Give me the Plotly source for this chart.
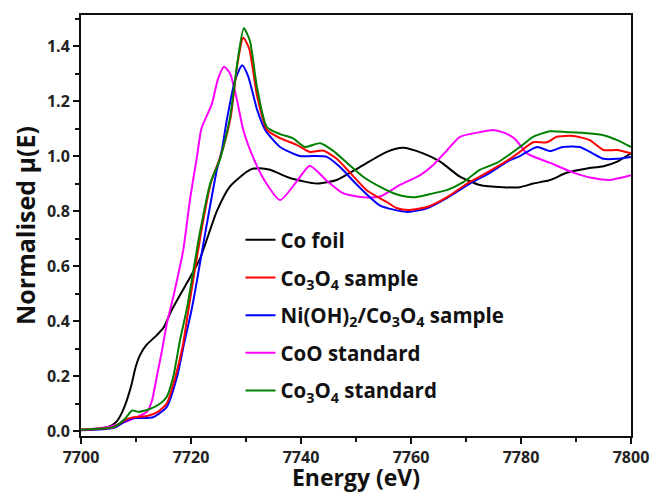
import plotly.graph_objects as go

# ---------------- data ----------------
co_foil_x = [7700, 7704, 7705.5, 7706.5, 7707.4, 7708.3, 7709.2, 7709.9, 7710.7, 7711.9, 7713.8,
             7715, 7716.5, 7719.3, 7721.6, 7724.7, 7727.1, 7730.7, 7732.5, 7734.4, 7738,
             7742.9, 7746.5, 7750.7, 7755.6, 7758.5, 7762.2, 7765.3, 7768.9, 7772.5, 7776.7,
             7779.8, 7782.2, 7785.3, 7788.4, 7792, 7795, 7797.5, 7800]
co_foil_y = [0.005, 0.01, 0.02, 0.035, 0.065, 0.11, 0.17, 0.23, 0.275, 0.313, 0.349,
             0.376, 0.44, 0.54, 0.625, 0.80, 0.89, 0.95, 0.956, 0.95, 0.92,
             0.90, 0.913, 0.96, 1.015, 1.03, 1.01, 0.98, 0.925, 0.895, 0.887,
             0.887, 0.90, 0.913, 0.94, 0.955, 0.963, 0.98, 1.01]

coo_x = [7700, 7705, 7708.9, 7712, 7712.9, 7713.8, 7714.7, 7715.6, 7716.8, 7718.6, 7719.8,
         7721.1, 7721.9, 7723.8, 7724.9, 7726, 7727.1, 7728.4, 7729.5, 7731, 7733.1, 7736.2,
         7739.3, 7741.6, 7744.7, 7747.6, 7751.3, 7754.4, 7758, 7761.6, 7764, 7766.5, 7768.9,
         7772.5, 7775, 7777.5, 7779, 7781.1, 7785.3, 7789.5, 7793, 7796.2, 7800]
coo_y = [0.005, 0.015, 0.04, 0.07, 0.11, 0.20, 0.29, 0.39, 0.49, 0.66, 0.84,
         1.0, 1.10, 1.19, 1.28, 1.325, 1.30, 1.20, 1.095, 1.01, 0.92, 0.84,
         0.91, 0.965, 0.91, 0.865, 0.85, 0.853, 0.895, 0.93, 0.967, 1.02, 1.07,
         1.087, 1.095, 1.08, 1.06, 1.01, 0.975, 0.94, 0.92, 0.913, 0.93]

co3o4_s_x = [7700, 7706, 7708, 7709.5, 7712, 7714, 7715.6, 7717.2, 7718.5, 7719.6, 7721.9,
             7723.7, 7725.4, 7727.2, 7728.4, 7729.5, 7730.6, 7732, 7733.8, 7736.2, 7739.3,
             7741.6, 7744, 7746.5, 7748.9, 7752, 7755.6, 7757.5, 7759.8, 7762.9, 7766.5,
             7770.2, 7773.8, 7778, 7779.8, 7782.2, 7784.7, 7786.5, 7789.5, 7792.5, 7795,
             7797.5, 7800]
co3o4_s_y = [0.005, 0.015, 0.04, 0.05, 0.055, 0.07, 0.1, 0.2, 0.31, 0.45, 0.73,
             0.91, 1.0, 1.14, 1.33, 1.43, 1.39, 1.22, 1.095, 1.065, 1.04,
             1.015, 1.02, 0.99, 0.94, 0.875, 0.833, 0.81, 0.804, 0.815, 0.85,
             0.90, 0.94, 0.99, 1.015, 1.05, 1.05, 1.07, 1.073, 1.058, 1.022,
             1.022, 1.01]

nioh_x = [7700, 7706, 7708, 7709.5, 7713.1, 7715.6, 7717.5, 7718.6, 7720.2, 7722.9, 7724.7,
          7725.6, 7726.5, 7728, 7729.3, 7730.4, 7732, 7733.5, 7736.2, 7739.8, 7742.2,
          7744.7, 7747.1, 7750.2, 7754.4, 7759.3, 7762.9, 7766.5, 7770.7, 7774.4, 7778,
          7779.8, 7782.9, 7785.3, 7787.6, 7790.7, 7793, 7795, 7797.5, 7800]
nioh_y = [0.003, 0.012, 0.035, 0.047, 0.05, 0.088, 0.20, 0.305, 0.45, 0.755, 0.95,
          1.02, 1.13, 1.275, 1.33, 1.29, 1.17, 1.095, 1.033, 1.0, 1.0,
          0.997, 0.96, 0.895, 0.82, 0.797, 0.81, 0.847, 0.90, 0.94, 0.985,
          1.0, 1.033, 1.018, 1.033, 1.033, 1.01, 0.99, 0.99, 0.997]

co3o4_std_x = [7700, 7706, 7708, 7709.3, 7710.4, 7712.5, 7714.4, 7715.6, 7716.8, 7718, 7719.3,
               7721.6, 7723.5, 7725.3, 7727.1, 7728.5, 7729.6, 7730.7, 7732, 7733.8, 7736.2,
               7738.5, 7740.7, 7743.5, 7745.8, 7748.4, 7751.3, 7754.4, 7757.5, 7760.4, 7763.5,
               7766.5, 7769.5, 7772.5, 7775.6, 7779.8, 7782.2, 7785.3, 7788.4, 7792, 7795,
               7797.5, 7800]
co3o4_std_y = [0.005, 0.015, 0.045, 0.075, 0.07, 0.08, 0.10, 0.125, 0.20, 0.33, 0.45,
               0.72, 0.90, 0.99, 1.14, 1.35, 1.465, 1.42, 1.25, 1.105, 1.08,
               1.065, 1.033, 1.047, 1.02, 0.975, 0.925, 0.888, 0.86, 0.85, 0.862,
               0.876, 0.905, 0.95, 0.975, 1.033, 1.07, 1.09, 1.087, 1.083, 1.076,
               1.058, 1.033]

names = ["Co foil", "Co<sub>3</sub>O<sub>4</sub> sample",
         "Ni(OH)<sub>2</sub>/Co<sub>3</sub>O<sub>4</sub> sample",
         "CoO standard", "Co<sub>3</sub>O<sub>4</sub> standard"]
colors = ["#000000", "#ff0000", "#0000ff", "#ff00ff", "#008000"]
xs = [co_foil_x, co3o4_s_x, nioh_x, coo_x, co3o4_std_x]
ys = [co_foil_y, co3o4_s_y, nioh_y, coo_y, co3o4_std_y]

x_ticks = [7700, 7720, 7740, 7760, 7780, 7800]
y_ticks = [0.0, 0.2, 0.4, 0.6, 0.8, 1.0, 1.2, 1.4]
y_ticktext = ["0.0", "0.2", "0.4", "0.6", "0.8", "1.0", "1.2", "1.4"]

# ---------------- figure ----------------
FONT = "Open Sans"
fig = go.Figure()
order = [0, 3, 2, 1, 4]
for i in order:
    fig.add_trace(go.Scatter(x=xs[i], y=ys[i], mode="lines", name=names[i],
                             line=dict(color=colors[i], width=2, shape="spline", smoothing=0.6),
                             legendgroup=str(i), legendrank=i + 1))

axis_common = dict(showline=True, linecolor="#111", linewidth=2, mirror=True,
                   ticks="outside", ticklen=6, tickwidth=2, tickcolor="#111",
                   showgrid=False, zeroline=False, automargin=False,
                   tickfont=dict(family=FONT, size=16, color="#222", weight="bold"),
                   minor=dict(ticks="outside", ticklen=4, tickwidth=1.5, tickcolor="#111"))

fig.update_xaxes(range=[7700, 7800], tickvals=x_ticks, minor_dtick=10,
                 title=dict(text="Energy (eV)",
                            font=dict(family=FONT, size=23, color="#111", weight="bold"),
                            standoff=5),
                 **axis_common)
fig.update_yaxes(range=[-0.018, 1.513], tickvals=y_ticks, ticktext=y_ticktext,
                 minor_dtick=0.1,
                 title=dict(text="Normalised μ(E)",
                            font=dict(family=FONT, size=25, color="#111", weight="bold"),
                            standoff=4),
                 **axis_common)

fig.update_layout(
    width=654, height=493,
    margin=dict(l=81, r=23, t=15, b=57),
    plot_bgcolor="white", paper_bgcolor="white",
    font=dict(family=FONT, color="#111"),
    legend=dict(x=0.29, y=0.513, xanchor="left", yanchor="top",
                bgcolor="rgba(0,0,0,0)",
                font=dict(family=FONT, size=20.5, color="#111", weight="bold"),
                tracegroupgap=8, traceorder="grouped"),
)

fig.write_html("out.html")
